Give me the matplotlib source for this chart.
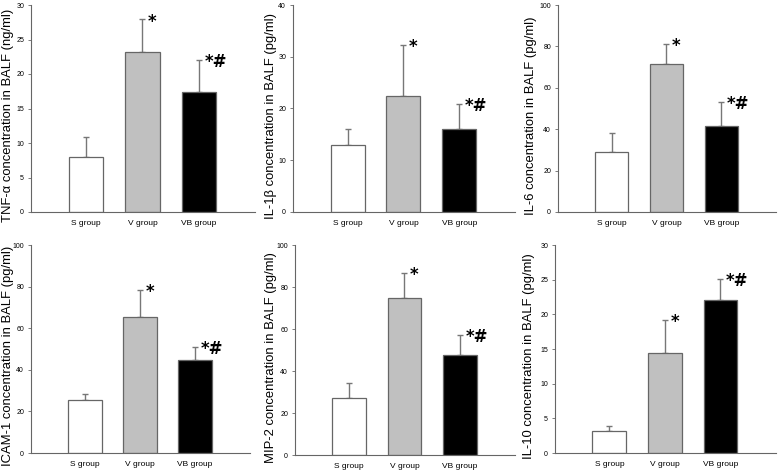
import matplotlib
matplotlib.use("Agg")
import matplotlib.pyplot as plt
from matplotlib import font_manager

names = {f.name for f in font_manager.fontManager.ttflist}
narrow = 'Liberation Sans Narrow' if 'Liberation Sans Narrow' in names else 'Liberation Sans'
plt.rcParams['font.family'] = ['Liberation Sans', 'DejaVu Sans']

groups = ["S group", "V group", "VB group"]
colors = ["white", "#c0c0c0", "black"]

tnf_mean = [8.0, 23.2, 17.4]
tnf_upper = [10.9, 27.9, 22.0]
il1b_mean = [13.0, 22.5, 16.0]
il1b_upper = [16.1, 32.3, 20.8]
il6_mean = [29.0, 71.5, 41.5]
il6_upper = [38.0, 81.0, 53.0]
icam_mean = [25.5, 65.5, 44.5]
icam_upper = [28.5, 78.5, 51.0]
mip2_mean = [27.0, 75.0, 47.5]
mip2_upper = [34.5, 86.5, 57.0]
il10_mean = [3.2, 14.4, 22.1]
il10_upper = [3.9, 19.2, 25.1]

marks = ["", "*", "*#"]

panels = [
    ("TNF-\u03b1 concentration in BALF (ng/ml)", tnf_mean, tnf_upper, 30, 5),
    ("IL-1\u03b2 concentration in BALF (pg/ml)", il1b_mean, il1b_upper, 40, 10),
    ("IL-6 concentration in BALF (pg/ml)", il6_mean, il6_upper, 100, 20),
    ("ICAM-1 concentration in BALF (pg/ml)", icam_mean, icam_upper, 100, 20),
    ("MIP-2 concentration in BALF (pg/ml)", mip2_mean, mip2_upper, 100, 20),
    ("IL-10 concentration in BALF (pg/ml)", il10_mean, il10_upper, 30, 5),
]

W, H = 778, 470
# axes boxes in pixels: left, right, top, bottom, label right edge x
boxes = [
    (31, 255, 5, 212, 14),
    (293, 515, 5, 212, 277),
    (558, 776, 5, 212, 537),
    (31, 250, 245, 453, 14),
    (295, 515, 245, 455, 277),
    (555, 776, 245, 453, 535),
]

fig = plt.figure(figsize=(W / 100, H / 100), dpi=100)
edge = "#666666"
for (label, mean, upper, ymax, step), (l, r, t, b, lx) in zip(panels, boxes):
    ax = fig.add_axes([l / W, 1 - b / H, (r - l) / W, (b - t) / H])
    x = list(range(len(groups)))
    err = [u - m for u, m in zip(upper, mean)]
    ax.errorbar(x, mean, yerr=[[0] * 3, err], fmt='none', ecolor='#777777',
                elinewidth=1.0, capsize=2.2, capthick=1.0, zorder=1)
    ax.bar(x, mean, width=0.61, color=colors, edgecolor=edge, linewidth=0.9, zorder=2)
    for xi, u, m in zip(x, upper, marks):
        if m:
            ax.annotate(m, (xi, u), xytext=(4, -1.5), textcoords='offset points',
                        fontsize=12, fontweight='bold', ha='left', va='center',
                        family=['DejaVu Sans'])
    ax.set_xlim(-0.98, 3.0)
    ax.set_ylim(0, ymax)
    ax.set_yticks(range(0, ymax + 1, step))
    ax.set_xticks(x)
    ax.set_xticklabels(groups, family=[narrow, 'DejaVu Sans'], fontsize=6)
    ax.tick_params(axis='x', length=0, pad=6)
    ax.tick_params(axis='y', length=2, width=0.6, color=edge, labelsize=5, pad=3)
    for s in ('top', 'right'):
        ax.spines[s].set_visible(False)
    for s in ('left', 'bottom'):
        ax.spines[s].set_color(edge)
        ax.spines[s].set_linewidth(0.8)
    ax.set_ylabel(label, fontsize=9.4)
    ax.yaxis.set_label_coords(-(l - lx) / (r - l), 0.465)

fig.savefig("out.png", dpi=100)
